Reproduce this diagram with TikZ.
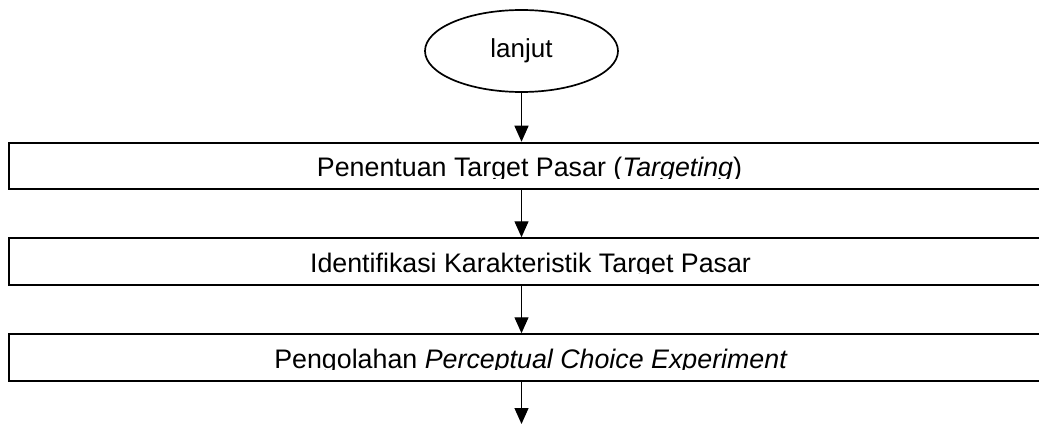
\documentclass[tikz,border=0pt]{standalone}
\usepackage{fontspec}
\setmainfont{Liberation Sans}
\usetikzlibrary{arrows.meta,shapes.geometric}
\tikzset{
  flowbox/.style={draw=black,line width=2pt,rectangle,minimum width=1042pt,minimum height=46.5pt,inner sep=0pt},
  boxtext/.style={anchor=base,inner sep=0pt,font=\fontsize{26.8}{32}\selectfont},
  oval/.style={draw=black,line width=1.7pt,ellipse,minimum width=193pt,minimum height=82pt,inner sep=0pt,font=\fontsize{26}{30}\selectfont},
  flow/.style={draw=black,line width=1.3pt,-{Triangle[width=14pt,length=16pt]}}
}
\begin{document}
\begin{tikzpicture}[x=1pt,y=-1pt]
\useasboundingbox (0,0) rectangle (1039,425);
\node[oval] (e) at (521.5,51) {\raisebox{-2pt}{lanjut}};
\node[flowbox] (b1) at (529.5,166) {};
\node[flowbox] (b2) at (529.5,261.5) {};
\node[flowbox] (b3) at (529.5,357.5) {};
\begin{scope}
\clip (0,143) rectangle (1039,178.5);
\node[boxtext] (t1) at (529.5,177) {Penentuan Target Pasar (\textit{Targeting})};
\end{scope}
\begin{scope}
\clip (0,238) rectangle (1039,273.5);
\node[boxtext] (t2) at (530.5,272) {Identifikasi Karakteristik Target Pasar};
\end{scope}
\begin{scope}
\clip (0,335) rectangle (1039,369.8);
\node[boxtext] (t3) at (531,368.3) {Pengolahan \textit{Perceptual Choice Experiment}};
\end{scope}
\coordinate (end) at (521.5,424);
\draw[flow] (e.south) -- (e.south |- b1.north);
\draw[flow] (e.south |- b1.south) -- (e.south |- b2.north);
\draw[flow] (e.south |- b2.south) -- (e.south |- b3.north);
\draw[flow] (e.south |- b3.south) -- (end);
\end{tikzpicture}
\end{document}
